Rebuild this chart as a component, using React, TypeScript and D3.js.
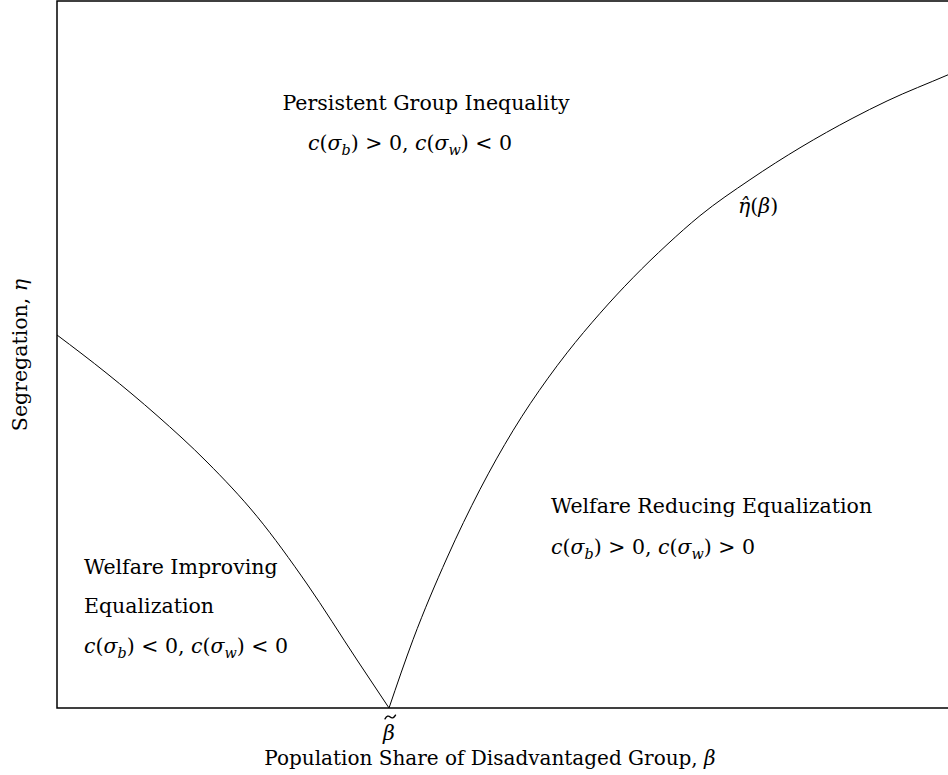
import React from "react";
import * as d3 from "d3";

// Data (beta in [0,1], eta in [0,1])
const leftBeta = [0, 0.056, 0.112, 0.168, 0.224, 0.28, 0.336, 0.3718];
const leftEta = [0.5276, 0.4731, 0.4137, 0.3479, 0.2709, 0.1754, 0.0679, 0];
const rightBeta = [0.3718, 0.3987, 0.4367, 0.4737, 0.5106, 0.5498, 0.5711, 0.6081, 0.645, 0.6831, 0.72, 0.776, 0.8903, 0.9295, 0.9978, 1.0];
const rightEta = [0, 0.0967, 0.2122, 0.3092, 0.3922, 0.4665, 0.5023, 0.5583, 0.6086, 0.6553, 0.6963, 0.7472, 0.8338, 0.8586, 0.8956, 0.8968];
const betaTilde = 0.3718;

const W = 948;
const H = 775;
const M = { left: 57, top: 1, right: 950, bottom: 708 };

const FONT = "'DejaVu Serif', serif";

type Sub = { base: string; sub: string };

function Formula({ x, y, op1, op2, size }: { x: number; y: number; op1: string; op2: string; size: number }) {
  const subSize = size * 0.7;
  const dy = size * 0.22;
  const part = (s: Sub, key: string) => [
    <tspan key={key + "c"} fontStyle="italic">c</tspan>,
    <tspan key={key + "p"}>(</tspan>,
    <tspan key={key + "s"} fontStyle="italic">{s.base}</tspan>,
    <tspan key={key + "b"} fontStyle="italic" fontSize={subSize} dy={dy}>{s.sub}</tspan>,
    <tspan key={key + "q"} dy={-dy}>)</tspan>,
  ];
  return (
    <text x={x} y={y} fontFamily={FONT} fontSize={size} fill="#000">
      {part({ base: "σ", sub: "b" }, "a")}
      <tspan>{` ${op1} 0, `}</tspan>
      {part({ base: "σ", sub: "w" }, "w")}
      <tspan>{` ${op2} 0`}</tspan>
    </text>
  );
}

export default function App() {
  const x = d3.scaleLinear().domain([0, 1]).range([M.left, M.right]);
  const y = d3.scaleLinear().domain([0, 1]).range([M.bottom, M.top]);
  const gen = d3
    .line<[number, number]>()
    .x((d) => x(d[0]))
    .y((d) => y(d[1]))
    .curve(d3.curveMonotoneX);
  const leftPath = gen(leftBeta.map((b, i) => [b, leftEta[i]] as [number, number]));
  const rightPath = gen(rightBeta.map((b, i) => [b, rightEta[i]] as [number, number]));

  const fs = 20.5;
  const bx = x(betaTilde);
  const tildeY = 717;
  const tilde = `M${bx - 4},${tildeY + 1.8} Q${bx - 1.5},${tildeY - 2.5} ${bx + 1.2},${tildeY} T${bx + 6.5},${tildeY - 1.8}`;
  return (
    <svg width={W} height={H} style={{ position: "absolute", left: 0, top: 0, background: "#fff" }}>
      <rect x={0} y={0} width={W} height={H} fill="#fff" />
      <defs>
        <clipPath id="clip">
          <rect x={M.left} y={M.top} width={M.right - M.left} height={M.bottom - M.top} />
        </clipPath>
      </defs>
      <g clipPath="url(#clip)">
        <path d={leftPath || ""} fill="none" stroke="#000" strokeWidth={1} />
        <path d={rightPath || ""} fill="none" stroke="#000" strokeWidth={1} />
      </g>
      <rect x={M.left} y={M.top} width={M.right - M.left} height={M.bottom - M.top} fill="none" stroke="#000" strokeWidth={1.5} />

      <text x={426} y={110} textAnchor="middle" fontFamily={FONT} fontSize={fs}>Persistent Group Inequality</text>
      <Formula x={308} y={150} op1=">" op2="<" size={fs} />

      <text x={738} y={213} fontFamily={FONT} fontSize={fs}>
        <tspan fontStyle="italic">η̂</tspan>(<tspan fontStyle="italic">β</tspan>)
      </text>

      <text x={84} y={574} fontFamily={FONT} fontSize={fs}>Welfare Improving</text>
      <text x={84} y={613} fontFamily={FONT} fontSize={fs}>Equalization</text>
      <Formula x={84} y={653} op1="<" op2="<" size={fs} />

      <text x={551} y={513} fontFamily={FONT} fontSize={fs}>Welfare Reducing Equalization</text>
      <Formula x={551} y={554} op1=">" op2=">" size={fs} />

      <text x={bx} y={740} textAnchor="middle" fontFamily={FONT} fontSize={fs} fontStyle="italic">β</text>
      <path d={tilde} fill="none" stroke="#000" strokeWidth={1.4} strokeLinecap="round" />
      <text x={490} y={765} textAnchor="middle" fontFamily={FONT} fontSize={20}>
        Population Share of Disadvantaged Group, <tspan fontStyle="italic">β</tspan>
      </text>
      <text transform="translate(27,355) rotate(-90)" textAnchor="middle" fontFamily={FONT} fontSize={fs}>
        Segregation, <tspan fontStyle="italic">η</tspan>
      </text>
    </svg>
  );
}
